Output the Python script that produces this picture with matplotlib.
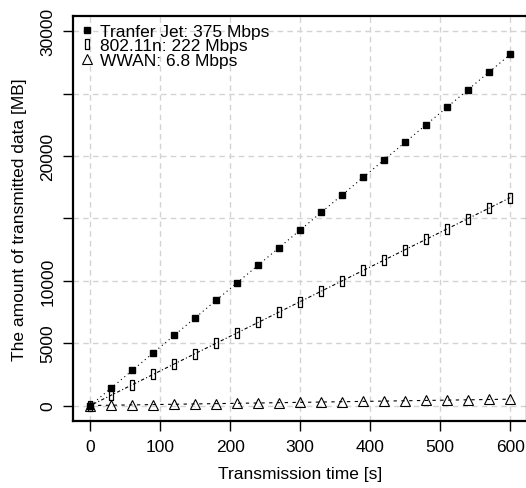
import matplotlib
matplotlib.use("Agg")
import matplotlib.pyplot as plt
from matplotlib.lines import Line2D
from matplotlib.path import Path

plt.rcParams['font.family'] = ['Liberation Sans', 'DejaVu Sans']

# Transmission time in seconds
time_s = [0, 30, 60, 90, 120, 150, 180, 210, 240, 270, 300,
          330, 360, 390, 420, 450, 480, 510, 540, 570, 600]

# Transmitted data in MB
transferjet_mb = [0, 1406, 2813, 4219, 5625, 7031, 8438, 9844, 11250, 12656, 14063,
                  15469, 16875, 18281, 19688, 21094, 22500, 23906, 25313, 26719, 28125]
wifi_mb = [0, 833, 1665, 2498, 3330, 4163, 4995, 5828, 6660, 7493, 8325,
           9158, 9990, 10823, 11655, 12488, 13320, 14153, 14985, 15818, 16650]
wwan_mb = [0, 26, 51, 77, 102, 128, 153, 179, 204, 230, 255,
           281, 306, 332, 357, 383, 408, 434, 459, 485, 510]

series_labels = ["Tranfer Jet: 375 Mbps", "802.11n: 222 Mbps", "WWAN: 6.8 Mbps"]

x_ticks = [0, 100, 200, 300, 400, 500, 600]
y_ticks = [0, 5000, 10000, 15000, 20000, 25000, 30000]
y_tick_labels = ["0", "5000", "10000", "", "20000", "", "30000"]

# narrow open rectangle marker
rect_marker = Path([(-0.5, -1), (0.5, -1), (0.5, 1), (-0.5, 1), (-0.5, -1)],
                   [Path.MOVETO, Path.LINETO, Path.LINETO, Path.LINETO, Path.CLOSEPOLY])

fig = plt.figure(figsize=(5.26, 4.89), dpi=100)
ax = fig.add_axes([0.1397, 0.138, 0.862, 0.827])

ax.set_xlim(-24, 624)
ax.set_ylim(-1200, 31200)

for xv in x_ticks:
    ax.axvline(xv, color='#d3d3d3', lw=1.0, ls=(0, (4, 3)), zorder=0)
for yv in y_ticks:
    ax.axhline(yv, color='#d3d3d3', lw=1.0, ls=(0, (4, 3)), zorder=0)

sq_kw = dict(marker='s', ms=5, mfc='black', mec='black')
rect_kw = dict(marker=rect_marker, ms=6.5, mfc='none', mec='black', mew=0.9)
tri_kw = dict(marker='^', ms=6.5, mfc='none', mec='black', mew=0.8)

ax.plot(time_s, transferjet_mb, color='black', lw=0.8, ls=(0, (1, 3)), zorder=3, **sq_kw)
ax.plot(time_s, wifi_mb, color='black', lw=0.8, ls=(0, (1, 2, 3, 2)), zorder=3, **rect_kw)
ax.plot(time_s, wwan_mb, color='black', lw=0.8, ls=(0, (3, 4)), zorder=3, **tri_kw)

ax.set_xticks(x_ticks)
ax.set_xticklabels([str(v) for v in x_ticks], fontsize=12.5)
ax.set_yticks(y_ticks)
ax.set_yticklabels(y_tick_labels, fontsize=12.5, rotation=90, va='center')
ax.tick_params(direction='out', length=7, width=1.0, pad=6)

for side in ['left', 'bottom', 'top', 'right']:
    ax.spines[side].set_linewidth(1.6)

ax.set_xlabel("Transmission time [s]", fontsize=12.5, labelpad=9)
ax.set_ylabel("The amount of transmitted data [MB]", fontsize=12.5, labelpad=10)

handles = [
    Line2D([], [], ls='none', **sq_kw),
    Line2D([], [], ls='none', **rect_kw),
    Line2D([], [], ls='none', **tri_kw),
]
ax.legend(handles, series_labels, loc='upper left', frameon=False, fontsize=12.5,
          handlelength=0.7, handletextpad=0.35, labelspacing=-0.05,
          borderaxespad=0.15, borderpad=0.3)

fig.savefig("out.png", dpi=100)
